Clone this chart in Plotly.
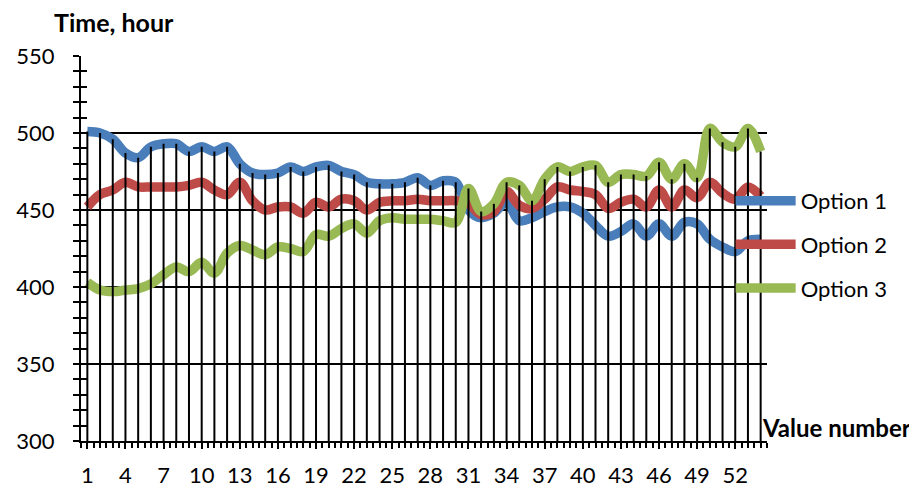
import plotly.graph_objects as go

categories = list(range(1, 55))
option1 = [501, 500, 496, 487, 484, 491, 493, 493, 488, 491, 488, 491, 480, 474, 473, 474, 478, 475,
           478, 479, 475, 473, 468, 467, 467, 468, 471, 466, 469, 468, 450, 445, 448, 455, 443, 445,
           449, 452, 452, 448, 440, 433, 436, 441, 433, 441, 433, 442, 441, 431, 426, 423, 430, 431]
option2 = [452, 460, 463, 468, 465, 465, 465, 465, 466, 468, 463, 460, 468, 456, 450, 452, 452, 448,
           455, 452, 457, 456, 450, 455, 456, 456, 457, 456, 456, 456, 454, 447, 449, 462, 453, 451,
           457, 465, 463, 462, 460, 451, 455, 457, 452, 463, 452, 463, 458, 468, 461, 457, 465, 459]
option3 = [403, 398, 397, 398, 399, 402, 408, 413, 410, 416, 409, 422, 427, 424, 421, 426, 425, 423,
           434, 433, 438, 441, 435, 443, 445, 444, 444, 444, 443, 442, 464, 449, 454, 468, 466, 456,
           470, 478, 475, 478, 479, 468, 473, 473, 472, 481, 470, 480, 471, 503, 494, 491, 503, 488]
series_names = ["Option 1", "Option 2", "Option 3"]
colors = ["#4A7EBB", "#BE4B48", "#98B954"]
y_axis_min = 300
y_axis_max = 550

FONT = "Lato"

fig = go.Figure()
for name, vals, col in zip(series_names, [option1, option2, option3], colors):
    fig.add_trace(go.Scatter(
        x=categories, y=vals, name=name, mode="lines",
        line=dict(color=col, width=9.5, shape="spline", smoothing=1),
        legendgroup=name,
    ))

# drop lines from highest series value down to the category axis
dx, dy = [], []
for i, c in enumerate(categories):
    top = max(option1[i], option2[i], option3[i])
    dx += [c, c, None]
    dy += [y_axis_min, top, None]
fig.add_trace(go.Scatter(x=dx, y=dy, mode="lines", line=dict(color="black", width=2),
                         showlegend=False, hoverinfo="skip"))

# invisible trace for secondary (inside ticks) y axis
fig.add_trace(go.Scatter(x=[categories[0]], y=[y_axis_min], yaxis="y2", mode="markers",
                         marker=dict(opacity=0), showlegend=False, hoverinfo="skip"))

fig.update_layout(
    width=909, height=479,
    margin=dict(l=73, r=150, t=48, b=46),
    plot_bgcolor="white", paper_bgcolor="white",
    font=dict(family=FONT, size=22, color="black"),
    showlegend=True,
    legend=dict(x=0.947, y=0.678, xanchor="left", yanchor="top", bgcolor="rgba(0,0,0,0)",
                font=dict(family=FONT, size=22, color="black"), tracegroupgap=12,
                itemwidth=60),
    xaxis=dict(range=[0.5, 54.5], tickmode="linear", tick0=1, dtick=3, showgrid=False,
               automargin=False,
               showline=True, linecolor="black", linewidth=2, zeroline=False,
               ticks="outside", ticklen=6, tickwidth=1.5, tickcolor="black",
               ticklabelstandoff=8,
               minor=dict(tick0=0.5, dtick=0.5, ticks="outside", ticklen=5, tickwidth=1.5,
                          tickcolor="black", showgrid=False)),
    yaxis=dict(range=[y_axis_min, y_axis_max], tickmode="linear", tick0=300, dtick=50,
               automargin=False,
               showgrid=True, gridcolor="black", gridwidth=2, zeroline=False,
               showline=True, linecolor="black", linewidth=2,
               ticks="outside", ticklen=6, tickwidth=1.5, tickcolor="black",
               ticklabelstandoff=14,
               minor=dict(dtick=10, ticks="outside", ticklen=6, tickwidth=1.5, tickcolor="black",
                          showgrid=False)),
    yaxis2=dict(range=[y_axis_min, y_axis_max], overlaying="y", side="left", anchor="x",
                automargin=False,
                tickmode="linear", tick0=300, dtick=50, showgrid=False, zeroline=False,
                showticklabels=False, ticks="inside", ticklen=6, tickwidth=1.5, tickcolor="black",
                minor=dict(dtick=10, ticks="inside", ticklen=6, tickwidth=1.5, tickcolor="black")),
    annotations=[
        dict(text="<b>Time, hour</b>", xref="paper", yref="paper", x=0.048, y=1.088,
             xanchor="center", yanchor="middle", showarrow=False,
             font=dict(family=FONT, size=25, color="black")),
        dict(text="<b>Value number</b>", xref="paper", yref="paper", x=1.1006, y=0.034,
             xanchor="center", yanchor="middle", showarrow=False,
             font=dict(family=FONT, size=24, color="black")),
    ],
)

fig.write_html("out.html")
